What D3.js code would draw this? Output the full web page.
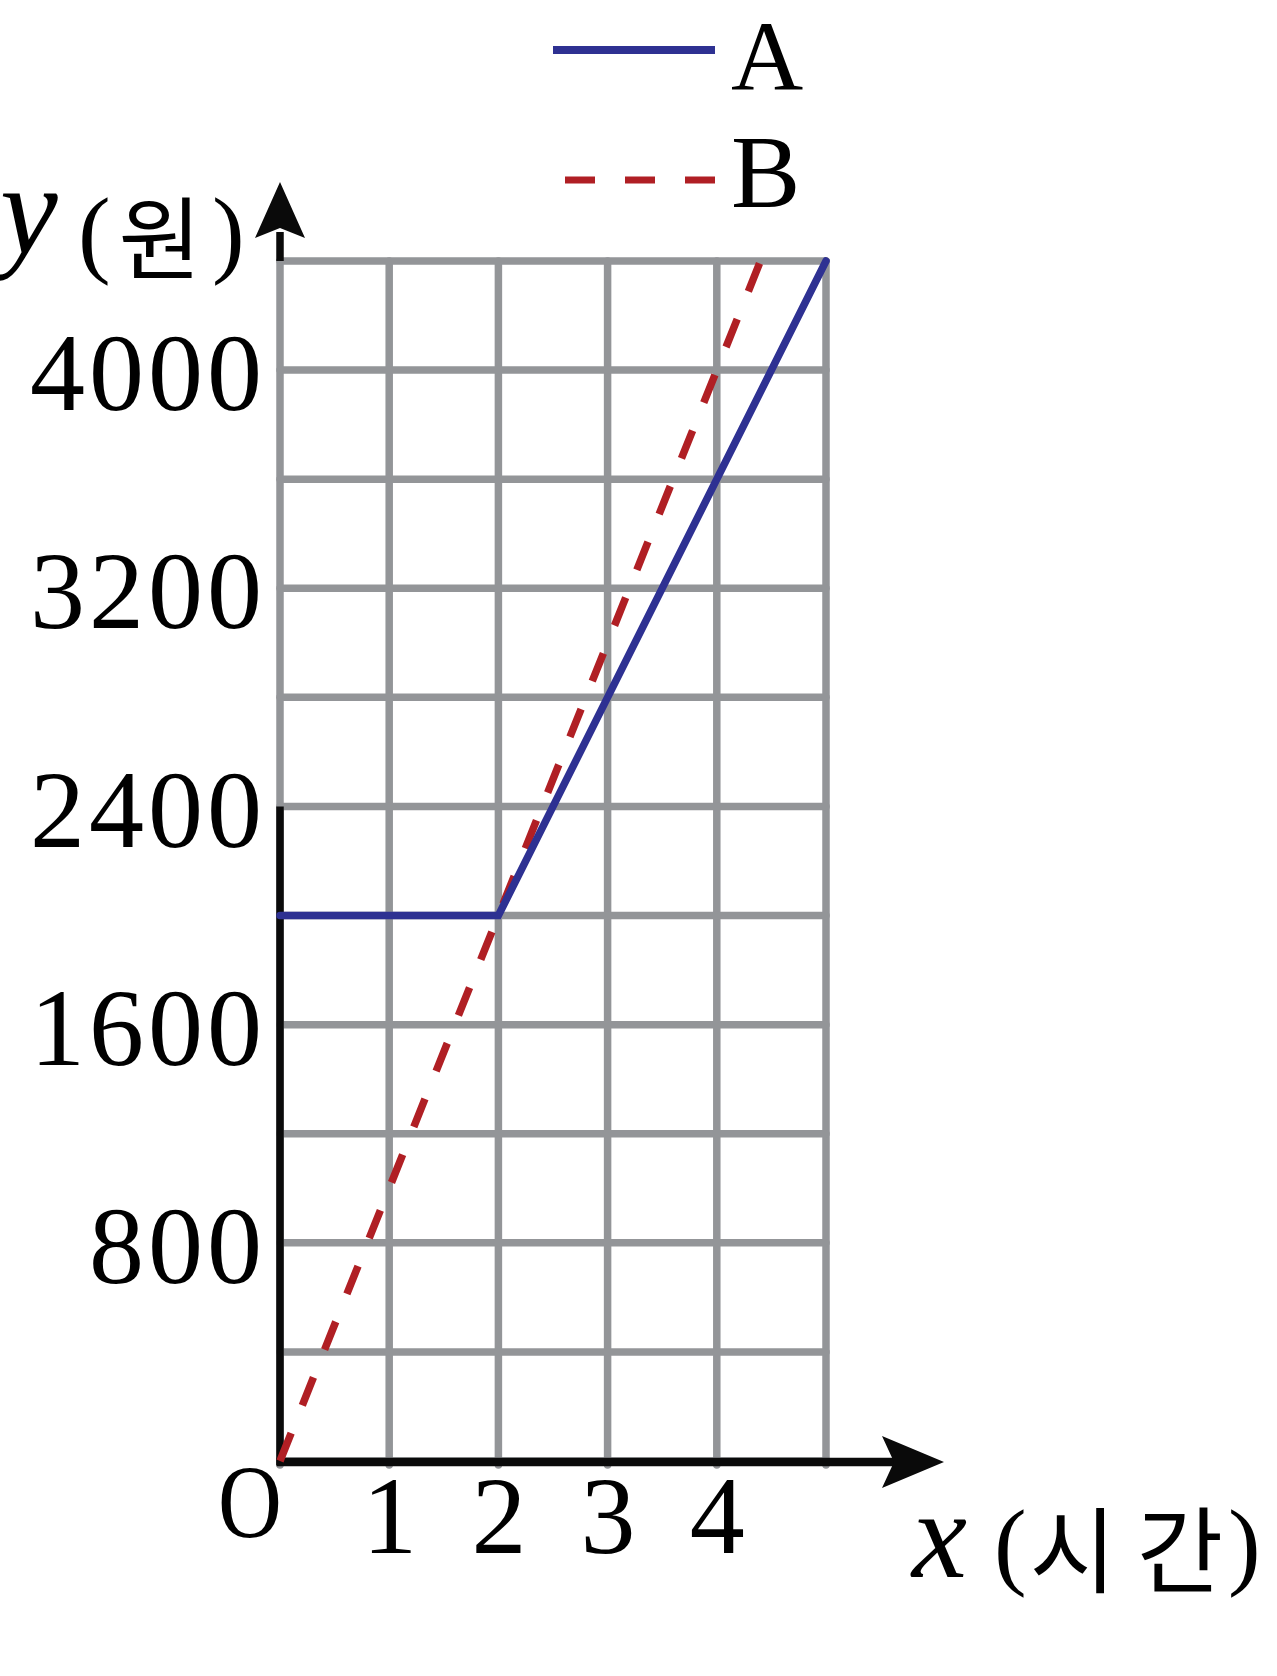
<!DOCTYPE html>
<html><head><meta charset="utf-8">
<script src="https://cdn.jsdelivr.net/npm/d3@7"></script>
<style>
html,body{margin:0;padding:0;background:#fff;}
svg{display:block;}
</style></head>
<body>
<svg id="chart" width="1277" height="1676"></svg>
<script>
// ---- data ----
const xTicks = [1, 2, 3, 4];
const yTicks = [800, 1600, 2400, 3200, 4000];
const gridXValues = [0, 1, 2, 3, 4, 5];
const gridYValues = [0, 400, 800, 1200, 1600, 2000, 2400, 2800, 3200, 3600, 4000, 4400];
const seriesNames = ["A", "B"];
const seriesAx = [0, 2, 5];
const seriesAy = [2000, 2000, 4400];
const seriesBx = [0, 4.4];
const seriesBy = [0, 4400];

const svg = d3.select("#chart");
const x = d3.scaleLinear().domain([0, 5]).range([280, 826]);
const y = d3.scaleLinear().domain([0, 4400]).range([1461, 261]);

const grey = "#939598", blue = "#2e3192", red = "#b01f24", black = "#0a0a0a";
const serif = "'Liberation Serif','Times New Roman',serif";
const kr = "'Noto Sans CJK KR',sans-serif";

// grid
const g = svg.append("g");
g.selectAll("line.gv").data(gridXValues).join("line")
  .attr("x1", d => x(d)).attr("x2", d => x(d))
  .attr("y1", y(0) + 4).attr("y2", y(4400))
  .attr("stroke", grey).attr("stroke-width", 7.5).attr("stroke-linecap", "round");
g.selectAll("line.gh").data(gridYValues).join("line")
  .attr("x1", x(0)).attr("x2", x(5))
  .attr("y1", d => y(d)).attr("y2", d => y(d))
  .attr("stroke", grey).attr("stroke-width", 7.5).attr("stroke-linecap", "round");

// axes (black)
svg.append("line").attr("x1", x(0)).attr("x2", x(0)).attr("y1", y(0) + 4).attr("y2", y(2400))
  .attr("stroke", black).attr("stroke-width", 7.5);
svg.append("line").attr("x1", x(0)).attr("x2", x(0)).attr("y1", y(4400)).attr("y2", 232)
  .attr("stroke", black).attr("stroke-width", 7.5);
svg.append("line").attr("x1", x(0) - 3.5).attr("x2", 900).attr("y1", y(0) + 1).attr("y2", y(0) + 1)
  .attr("stroke", black).attr("stroke-width", 8.5);
// arrowheads
const ax = x(0), ay = y(0) + 1;
svg.append("path").attr("d", `M${ax},182 L${ax + 25},238 L${ax},228 L${ax - 25},238 Z`).attr("fill", black);
svg.append("path").attr("d", `M944,${ay} L882,${ay - 26} L894,${ay} L882,${ay + 26} Z`).attr("fill", black);

// series
const lineGen = d3.line().x(d => x(d[0])).y(d => y(d[1]));
const dataB = seriesBx.map((v, i) => [v, seriesBy[i]]);
const dataA = seriesAx.map((v, i) => [v, seriesAy[i]]);
svg.append("path").datum(dataB).attr("d", lineGen).attr("fill", "none")
  .attr("stroke", red).attr("stroke-width", 7.5).attr("stroke-dasharray", "30,30");
svg.append("path").datum(dataA).attr("d", lineGen).attr("fill", "none")
  .attr("stroke", blue).attr("stroke-width", 7.5).attr("stroke-linejoin", "miter").attr("stroke-linecap", "round");

// y tick labels via axis
const yAxis = d3.axisLeft(y).tickValues(yTicks).tickSize(0).tickPadding(14).tickFormat(d3.format("d"));
const ya = svg.append("g").attr("transform", `translate(${x(0)},0)`).call(yAxis);
ya.select(".domain").remove();
ya.selectAll("text").attr("dy", "0.36em").attr("font-family", serif).attr("font-size", 110)
  .attr("letter-spacing", 4).attr("fill", "#000");

// x tick labels via axis
const xAxis = d3.axisBottom(x).tickValues(xTicks).tickSize(0).tickPadding(0).tickFormat(d3.format("d"));
const xa = svg.append("g").attr("transform", `translate(0,${y(0)})`).call(xAxis);
xa.select(".domain").remove();
xa.selectAll("text").attr("dy", 0).attr("y", 92).attr("font-family", serif).attr("font-size", 110).attr("fill", "#000");

// origin
svg.append("text").attr("x", 250).attr("y", 1537).attr("text-anchor", "middle")
  .attr("font-family", serif).attr("font-size", 104).attr("transform", "translate(250,0) scale(0.85,1) translate(-250,0)").text("O");

// y axis title
svg.append("text").attr("x", 0).attr("y", 253).attr("font-family", serif).attr("font-style", "italic")
  .attr("font-size", 130).text("y");
svg.append("text").attr("x", 78).attr("y", 265).attr("font-family", serif).attr("font-size", 98).text("(");
svg.append("text").attr("x", 160).attr("y", 272).attr("text-anchor", "middle").attr("font-family", kr)
  .attr("font-size", 90).text("원");
svg.append("text").attr("x", 212).attr("y", 265).attr("font-family", serif).attr("font-size", 98).text(")");

// x axis title
svg.append("text").attr("x", 912).attr("y", 1577).attr("font-family", serif).attr("font-style", "italic")
  .attr("font-size", 124).text("x");
svg.append("text").attr("x", 994).attr("y", 1577).attr("font-family", serif).attr("font-size", 98).text("(");
svg.append("text").attr("x", 1073).attr("y", 1586).attr("text-anchor", "middle").attr("font-family", kr)
  .attr("font-size", 94).text("시");
svg.append("text").attr("x", 1180).attr("y", 1586).attr("text-anchor", "middle").attr("font-family", kr)
  .attr("font-size", 94).text("간");
svg.append("text").attr("x", 1228).attr("y", 1577).attr("font-family", serif).attr("font-size", 98).text(")");

// legend
const legend = svg.append("g");
legend.append("line").attr("x1", 553).attr("x2", 715).attr("y1", 50).attr("y2", 50)
  .attr("stroke", blue).attr("stroke-width", 8);
legend.append("line").attr("x1", 565).attr("x2", 715).attr("y1", 180).attr("y2", 180)
  .attr("stroke", red).attr("stroke-width", 7).attr("stroke-dasharray", "30,30");
legend.append("text").attr("x", 731).attr("y", 90).attr("font-family", serif).attr("font-size", 100).text(seriesNames[0]);
legend.append("text").attr("x", 731).attr("y", 207).attr("font-family", serif).attr("font-size", 104).text(seriesNames[1]);
</script>
</body></html>
